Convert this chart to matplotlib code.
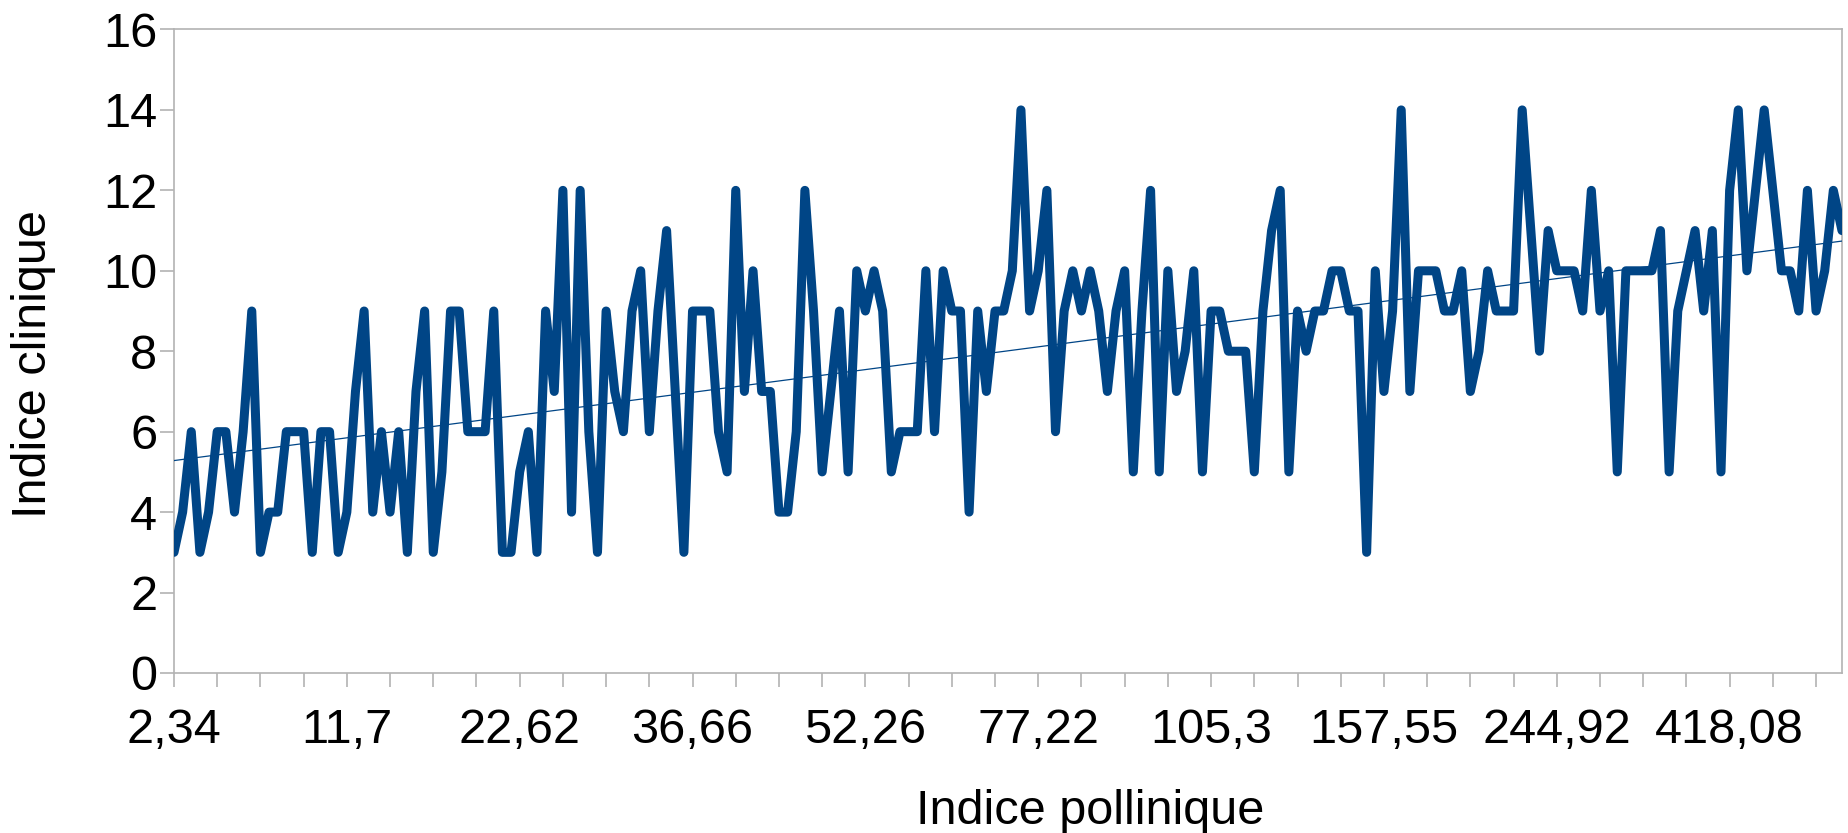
import numpy as np
import matplotlib.pyplot as plt

plt.rcParams['font.family'] = ['Liberation Sans', 'DejaVu Sans']

# indice clinique, one value per day (categories in order of the pollen index)
clinique = [3, 4, 6, 3, 4, 6, 6, 4, 6, 9,
            3, 4, 4, 6, 6, 6, 3, 6, 6, 3,
            4, 7, 9, 4, 6, 4, 6, 3, 7, 9,
            3, 5, 9, 9, 6, 6, 6, 9, 3, 3,
            5, 6, 3, 9, 7, 12, 4, 12, 6, 3,
            9, 7, 6, 9, 10, 6, 9, 11, 7, 3,
            9, 9, 9, 6, 5, 12, 7, 10, 7, 7,
            4, 4, 6, 12, 9, 5, 7, 9, 5, 10,
            9, 10, 9, 5, 6, 6, 6, 10, 6, 10,
            9, 9, 4, 9, 7, 9, 9, 10, 14, 9,
            10, 12, 6, 9, 10, 9, 10, 9, 7, 9,
            10, 5, 9, 12, 5, 10, 7, 8, 10, 5,
            9, 9, 8, 8, 8, 5, 9, 11, 12, 5,
            9, 8, 9, 9, 10, 10, 9, 9, 3, 10,
            7, 9, 14, 7, 10, 10, 10, 9, 9, 10,
            7, 8, 10, 9, 9, 9, 14, 11, 8, 11,
            10, 10, 10, 9, 12, 9, 10, 5, 10, 10,
            10, 10, 11, 5, 9, 10, 11, 9, 11, 5,
            12, 14, 10, 12, 14, 12, 10, 10, 9, 12,
            9, 10, 12, 11]

# only every 20th category label is shown on the axis
pollen_labels = ['2,34', '11,7', '22,62', '36,66', '52,26',
                 '77,22', '105,3', '157,55', '244,92', '418,08']

blue = '#004586'
grey = '#b3b3b3'

y = np.array(clinique)
x = np.arange(len(y))

fig = plt.figure(figsize=(18.49, 8.33), dpi=100)
ax = fig.add_axes([0.0941, 0.1921, 0.9021, 0.7725])

ax.plot(x, y, color=blue, linewidth=6.5, solid_joinstyle='round', solid_capstyle='round', zorder=3)

# linear trend line
a, b = np.polyfit(x, y, 1)
ax.plot(x, a * x + b, color=blue, linewidth=0.9, zorder=4)

ax.set_xlim(0, len(y) - 1)
ax.set_ylim(0, 16)
ax.set_yticks(np.arange(0, 17, 2))

ticks = np.arange(0, len(y), 5)
ax.set_xticks(ticks)
labs = []
for t in ticks:
    if t % 20 == 0:
        labs.append(pollen_labels[t // 20])
    else:
        labs.append('')
ax.set_xticklabels(labs)

for s in ax.spines.values():
    s.set_color(grey)
    s.set_linewidth(1.2)

ax.tick_params(axis='x', direction='out', length=10, width=1.2, color=grey, labelsize=35, pad=15)
ax.tick_params(axis='y', direction='out', length=10, width=1.2, color=grey, labelsize=35, pad=2)

ax.set_xlabel('Indice pollinique', fontsize=35, va='center')
ax.set_ylabel('Indice clinique', fontsize=35, va='center')
ax.xaxis.set_label_coords(0.549, -0.215)
ax.yaxis.set_label_coords(-0.084, 0.48)

plt.savefig('out.png', dpi=100)
